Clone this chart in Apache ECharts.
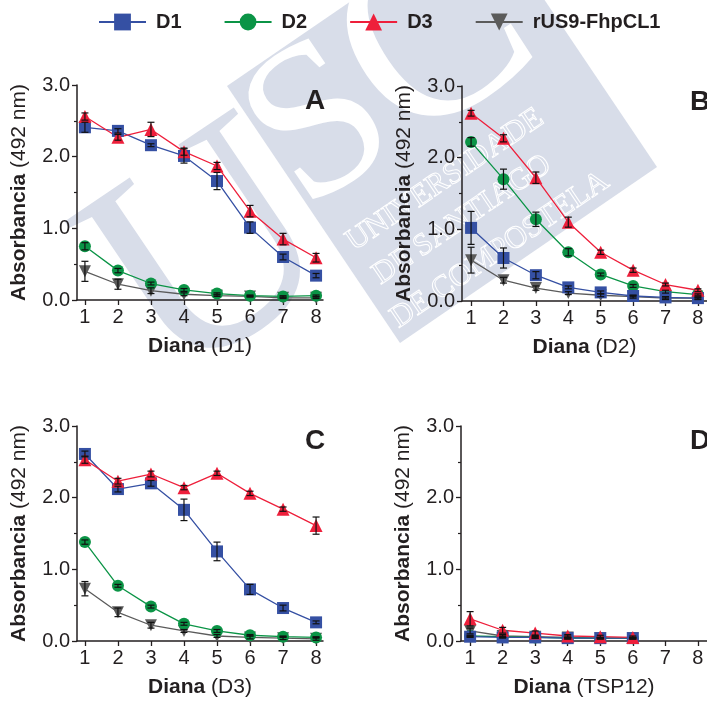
<!DOCTYPE html>
<html>
<head>
<meta charset="utf-8">
<script src="https://cdn.jsdelivr.net/npm/echarts@6/dist/echarts.min.js"></script>
<style>
  html, body { margin: 0; padding: 0; background: #fff; }
  #chart { width: 707px; height: 701px; }
</style>
</head>
<body>
<div id="chart"></div>
<script>
  // x categories (diana dilution steps) and y ticks
  const diana = [1, 2, 3, 4, 5, 6, 7, 8];
  const dianaTsp = [1, 2, 3, 4, 5, 6];
  const seriesNames = ['D1', 'D2', 'D3', 'rUS9-FhpCL1'];
  const panelLabels = ['A', 'B', 'C', 'D'];
  const xTitles = ['D1', 'D2', 'D3', 'TSP12'];

  // panel A - Diana (D1)
  const aD1 = [2.41, 2.36, 2.16, 2.01, 1.66, 1.01, 0.60, 0.34];
  const aD1Err = [0.07, 0.03, 0.02, 0.10, 0.12, 0.08, 0.04, 0.03];
  const aD2 = [0.75, 0.41, 0.23, 0.14, 0.09, 0.06, 0.05, 0.06];
  const aD2Err = [0.05, 0.03, 0.02, 0.02, 0.01, 0.01, 0.01, 0.01];
  const aD3 = [2.56, 2.27, 2.38, 2.07, 1.87, 1.24, 0.85, 0.59];
  const aD3Err = [0.05, 0.04, 0.10, 0.05, 0.05, 0.08, 0.08, 0.06];
  const aUS9 = [0.40, 0.22, 0.13, 0.08, 0.06, 0.05, 0.03, 0.03];
  const aUS9Err = [0.14, 0.07, 0.04, 0.02, 0.01, 0.01, 0.01, 0.01];

  // panel B - Diana (D2)
  const bD1 = [1.02, 0.60, 0.36, 0.19, 0.12, 0.07, 0.05, 0.04];
  const bD1Err = [0.23, 0.14, 0.05, 0.02, 0.02, 0.01, 0.01, 0.01];
  const bD2 = [2.22, 1.70, 1.14, 0.68, 0.37, 0.21, 0.13, 0.09];
  const bD2Err = [0.06, 0.14, 0.10, 0.05, 0.02, 0.02, 0.02, 0.01];
  const bD3 = [2.62, 2.27, 1.72, 1.10, 0.68, 0.43, 0.23, 0.15];
  const bD3Err = [0.04, 0.05, 0.08, 0.07, 0.03, 0.03, 0.02, 0.02];
  const bUS9 = [0.57, 0.29, 0.18, 0.11, 0.08, 0.06, 0.04, 0.04];
  const bUS9Err = [0.18, 0.04, 0.03, 0.02, 0.02, 0.02, 0.02, 0.02];

  // panel C - Diana (D3)
  const cD1 = [2.61, 2.12, 2.20, 1.83, 1.25, 0.72, 0.46, 0.26];
  const cD1Err = [0.04, 0.04, 0.04, 0.15, 0.13, 0.07, 0.04, 0.02];
  const cD2 = [1.38, 0.77, 0.48, 0.24, 0.14, 0.08, 0.06, 0.05];
  const cD2Err = [0.03, 0.02, 0.02, 0.02, 0.02, 0.01, 0.01, 0.01];
  const cD3 = [2.53, 2.23, 2.33, 2.14, 2.34, 2.06, 1.84, 1.61];
  const cD3Err = [0.05, 0.04, 0.04, 0.03, 0.03, 0.03, 0.03, 0.12];
  const cUS9 = [0.73, 0.40, 0.22, 0.14, 0.07, 0.05, 0.04, 0.03];
  const cUS9Err = [0.10, 0.06, 0.04, 0.02, 0.02, 0.02, 0.02, 0.02];

  // panel D - Diana (TSP12)
  const dD1 = [0.06, 0.05, 0.05, 0.04, 0.04, 0.04];
  const dD1Err = [0.01, 0.01, 0.01, 0.01, 0.01, 0.01];
  const dD2 = [0.07, 0.06, 0.05, 0.04, 0.04, 0.04];
  const dD2Err = [0.01, 0.01, 0.01, 0.01, 0.01, 0.01];
  const dD3 = [0.31, 0.15, 0.11, 0.07, 0.06, 0.05];
  const dD3Err = [0.10, 0.04, 0.03, 0.02, 0.02, 0.02];
  const dUS9 = [0.14, 0.07, 0.06, 0.05, 0.04, 0.04];
  const dUS9Err = [0.04, 0.02, 0.02, 0.02, 0.01, 0.01];

  const panels = [
    { x: diana, vals: [aD1, aD2, aD3, aUS9], errs: [aD1Err, aD2Err, aD3Err, aUS9Err] },
    { x: diana, vals: [bD1, bD2, bD3, bUS9], errs: [bD1Err, bD2Err, bD3Err, bUS9Err] },
    { x: diana, vals: [cD1, cD2, cD3, cUS9], errs: [cD1Err, cD2Err, cD3Err, cUS9Err] },
    { x: dianaTsp, vals: [dD1, dD2, dD3, dUS9], errs: [dD1Err, dD2Err, dD3Err, dUS9Err] }
  ];

  const font = '"Liberation Sans", Arial, sans-serif';
  const ink = '#231f20';
  const colors = ['#3550a3', '#0b9446', '#ee1f3b', '#5b5b5b'];
  const symbols = ['rect', 'circle', 'triangle', 'triangle'];
  const symbolRotates = [0, 0, 0, 180];
  const symbolSizes = [12, 12, 13, 12];
  const drawOrder = [3, 1, 0, 2];

  const grids = [
    { left: 77, top: 85, width: 246, height: 215 },
    { left: 462, top: 86, width: 245, height: 215 },
    { left: 77, top: 426, width: 246, height: 215 },
    { left: 461, top: 426, width: 246, height: 215 }
  ];
  const xRanges = [[0.76, 8.21], [0.72, 8.28], [0.76, 8.21], [0.72, 8.28]];

  function errorBars(params, api) {
    let x = api.value(0);
    let y = api.value(1);
    let e = api.value(2);
    let hi = api.coord([x, y + e]);
    let lo = api.coord([x, y - e]);
    let w = 3.5;
    let style = { stroke: '#111', lineWidth: 1.2 };
    return {
      type: 'group',
      children: [
        { type: 'line', shape: { x1: hi[0], y1: hi[1], x2: lo[0], y2: lo[1] }, style: style },
        { type: 'line', shape: { x1: hi[0] - w, y1: hi[1], x2: hi[0] + w, y2: hi[1] }, style: style },
        { type: 'line', shape: { x1: lo[0] - w, y1: lo[1], x2: lo[0] + w, y2: lo[1] }, style: style }
      ]
    };
  }

  let xAxes = [];
  let yAxes = [];
  let series = [];

  grids.forEach(function(g, gi) {
    xAxes.push({
      gridIndex: gi,
      type: 'value',
      min: xRanges[gi][0],
      max: xRanges[gi][1],
      name: '{b|Diana} (' + xTitles[gi] + ')',
      nameLocation: 'middle',
      nameGap: 36,
      nameTextStyle: {
        fontSize: 21, color: ink, fontFamily: font,
        rich: { b: { fontSize: 21, fontWeight: 'bold', color: ink, fontFamily: font } }
      },
      axisLine: { onZero: false, lineStyle: { color: ink, width: 1.5 } },
      axisTick: { length: 5, customValues: diana, lineStyle: { color: ink, width: 1.3 } },
      axisLabel: { customValues: diana, fontSize: 20, color: ink, fontFamily: font, margin: 7 },
      splitLine: { show: false }
    });
    yAxes.push({
      gridIndex: gi,
      type: 'value',
      min: 0,
      max: 3,
      interval: 1,
      name: '{b|Absorbancia} (492 nm)',
      nameLocation: 'middle',
      nameGap: 47,
      nameTextStyle: {
        fontSize: 21, color: ink, fontFamily: font,
        rich: { b: { fontSize: 21, fontWeight: 'bold', color: ink, fontFamily: font } }
      },
      axisLine: { show: true, lineStyle: { color: ink, width: 1.5 } },
      axisTick: { show: true, length: 5, lineStyle: { color: ink, width: 1.3 } },
      minorTick: { show: true, splitNumber: 2, length: 3, lineStyle: { color: ink, width: 1.2 } },
      axisLabel: {
        fontSize: 20, color: ink, fontFamily: font, margin: 7,
        formatter: function(v) { return v.toFixed(1); }
      },
      splitLine: { show: false }
    });

    let p = panels[gi];
    drawOrder.forEach(function(si) {
      series.push({
        name: seriesNames[si],
        type: 'line',
        xAxisIndex: gi,
        yAxisIndex: gi,
        data: p.vals[si].map(function(v, i) { return [p.x[i], v]; }),
        symbol: symbols[si],
        symbolRotate: symbolRotates[si],
        symbolSize: symbolSizes[si],
        showAllSymbol: true,
        color: colors[si],
        lineStyle: { color: colors[si], width: 1.3 },
        itemStyle: { color: colors[si], opacity: 1 },
        z: 3
      });
    });
    drawOrder.forEach(function(si) {
      series.push({
        name: 'err-' + seriesNames[si],
        type: 'custom',
        xAxisIndex: gi,
        yAxisIndex: gi,
        renderItem: errorBars,
        encode: { x: 0, y: 1 },
        data: p.vals[si].map(function(v, i) { return [p.x[i], v, p.errs[si][i]]; }),
        z: 5
      });
    });
  });

  // faint USC logo behind the panels
  const wm = '#d8dde9';
  const tilt = 34 * Math.PI / 180;
  let graphics = [
    { type: 'polygon', z: -10, shape: { points: [[227, 86], [400, 343], [657, 167], [484, -90]] }, style: { fill: wm } },
    { type: 'text', z: -9, x: 215, y: 262, rotation: tilt,
      style: { text: 'U', font: '300px "Liberation Serif", serif', fill: wm, align: 'center', verticalAlign: 'middle' } },
    { type: 'text', z: -9, x: 322, y: 130, rotation: tilt,
      style: { text: 'S', font: '220px "Liberation Serif", serif', fill: '#fff', align: 'center', verticalAlign: 'middle' } },
    { type: 'text', z: -9, x: 438, y: 45, rotation: tilt,
      style: { text: 'C', font: '260px "Liberation Serif", serif', fill: '#fff', align: 'center', verticalAlign: 'middle' } },
    { type: 'text', z: -9, x: 445, y: 180, rotation: tilt,
      style: { text: 'UNIVERSIDADE', font: '31px "Liberation Serif", serif', fill: 'rgba(0,0,0,0)', stroke: '#fff', lineWidth: 1, align: 'center', verticalAlign: 'middle' } },
    { type: 'text', z: -9, x: 462, y: 220, rotation: tilt,
      style: { text: 'DE SANTIAGO', font: '31px "Liberation Serif", serif', fill: 'rgba(0,0,0,0)', stroke: '#fff', lineWidth: 1, align: 'center', verticalAlign: 'middle' } },
    { type: 'text', z: -9, x: 500, y: 250, rotation: tilt,
      style: { text: 'DE COMPOSTELA', font: '31px "Liberation Serif", serif', fill: 'rgba(0,0,0,0)', stroke: '#fff', lineWidth: 1, align: 'center', verticalAlign: 'middle' } }
  ];
  const letterPos = [[305, 87], [690, 88], [305, 427], [690, 427]];
  panelLabels.forEach(function(l, i) {
    graphics.push({
      type: 'text', z: 10, left: letterPos[i][0], top: letterPos[i][1],
      style: { text: l, font: 'bold 28px ' + font, fill: ink }
    });
  });

  const chart = echarts.init(document.getElementById('chart'));
  chart.setOption({
    animation: false,
    backgroundColor: '#fff',
    legend: {
      data: seriesNames,
      left: 93,
      top: 7,
      itemWidth: 47,
      itemHeight: 21,
      itemGap: 42,
      textStyle: { fontSize: 20, fontWeight: 'bold', color: ink, fontFamily: font, padding: [0, 0, 0, 5] }
    },
    grid: grids,
    xAxis: xAxes,
    yAxis: yAxes,
    series: series,
    graphic: graphics
  });
</script>
</body>
</html>
